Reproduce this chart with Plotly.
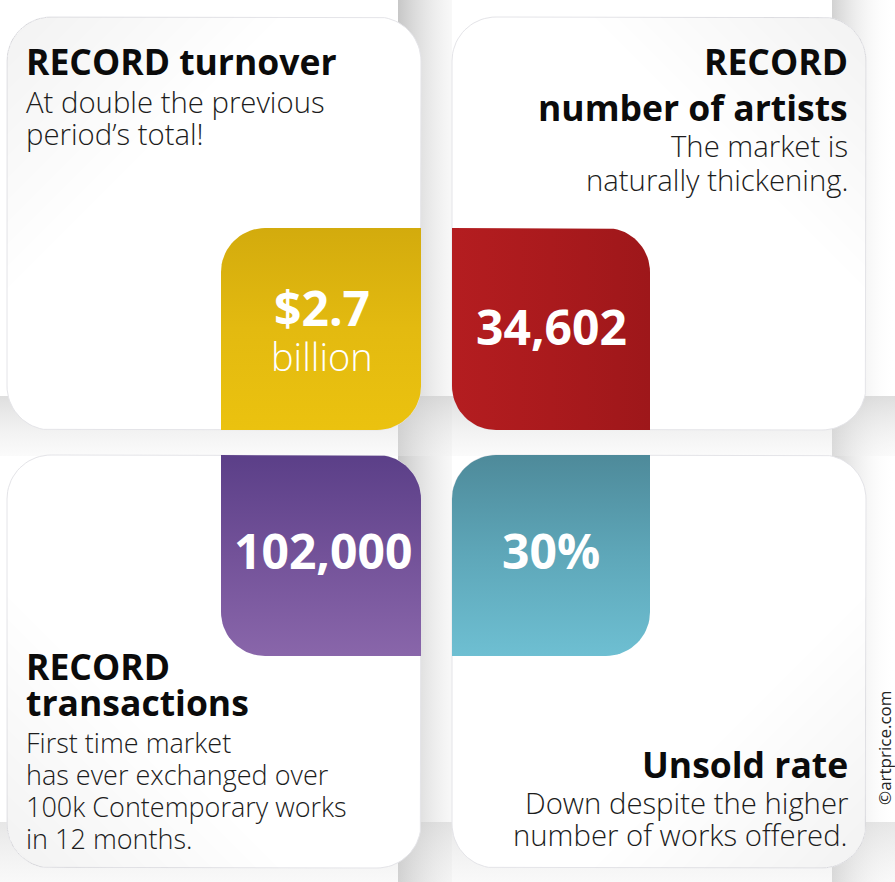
import math
import plotly.graph_objects as go

# ---------------- data ----------------
card_titles = [
    ["RECORD turnover"],
    ["RECORD", "number of artists"],
    ["RECORD", "transactions"],
    ["Unsold rate"],
]
card_subtitles = [
    ["At double the previous", "period’s total!"],
    ["The market is", "naturally thickening."],
    ["First time market", "has ever exchanged over", "100k Contemporary works", "in 12 months."],
    ["Down despite the higher", "number of works offered."],
]
key_values = ["$2.7", "34,602", "102,000", "30%"]
key_units = ["billion", "", "", ""]
# colour stops listed from top (or left) to bottom (or right)
box_gradients = [
    ("vertical", ["#d3ab0d", "#e3ba10", "#ebc20f"]),
    ("horizontal", ["#b41d20", "#aa1a1d", "#9e171a"]),
    ("vertical", ["#5b3f88", "#735299", "#8966aa"]),
    ("vertical", ["#4e8a9a", "#5ea7b9", "#6ebfd2"]),
]
credit = "©artprice.com"

# ---------------- layout constants ----------------
W, H = 895, 882
R = 44
FONT = "Open Sans"
cards = [(7, 17, 421, 430), (452, 17, 866, 430), (7, 455, 421, 868), (452, 455, 866, 868)]
boxes = [(221, 228, 421, 430), (452, 228, 650, 430), (221, 455, 421, 656), (452, 455, 650, 656)]
box_round = [("tl", "br"), ("tr", "bl"), ("tr", "bl"), ("tl", "br")]
# corner of each card where the grey shading lives: (sx, sy, cx, cy)
shade_corner = [(1, 1, 7, 17), (-1, 1, 866, 17), (1, -1, 7, 868), (-1, -1, 866, 868)]

title_pos = [(24, "left", [61]), (850, "right", [61, 107]), (24, "left", [666, 702]), (850, "right", [764])]
sub_pos = [[102, 134], [146, 180], [742, 774, 806, 838], [803, 835]]
sub_size = [29.3, 29.3, 27, 29.3]
value_pos = [(322, 307), (551, 326), (323, 550), (551, 550)]
unit_pos = [(322, 356), None, None, None]


def rounded_rect(x0, y0, x1, y1, corners, r=R, n=18):
    pts = []
    spec = [
        ("tl", (x0 + r, y0 + r), 180, 270, (x0, y0)),
        ("tr", (x1 - r, y0 + r), 270, 360, (x1, y0)),
        ("br", (x1 - r, y1 - r), 0, 90, (x1, y1)),
        ("bl", (x0 + r, y1 - r), 90, 180, (x0, y1)),
    ]
    for name, (cx, cy), a0, a1, sq in spec:
        if name in corners:
            for i in range(n + 1):
                a = math.radians(a0 + (a1 - a0) * i / n)
                pts.append((cx + r * math.cos(a), cy + r * math.sin(a)))
        else:
            pts.append(sq)
    pts.append(pts[0])
    return pts


def clip(poly, f):
    """Keep part of polygon where f(x,y) >= 0 (Sutherland-Hodgman)."""
    out = []
    pts = poly[:-1]
    for i in range(len(pts)):
        p, q = pts[i], pts[(i + 1) % len(pts)]
        fp, fq = f(*p), f(*q)
        if fp >= 0:
            out.append(p)
        if (fp >= 0) != (fq >= 0):
            t = fp / (fp - fq)
            out.append((p[0] + t * (q[0] - p[0]), p[1] + t * (q[1] - p[1])))
    if out:
        out.append(out[0])
    return out


def grad(gtype, stops):
    """stops are given top->bottom / left->right; the y axis is reversed on screen."""
    n = len(stops)
    cs = [[i / (n - 1), c] for i, c in enumerate(stops)]
    if gtype == "vertical":
        cs = [[1 - p, c] for p, c in reversed(cs)]
    return dict(type=gtype, colorscale=cs)


fig = go.Figure()


def poly_trace(pts, fillcolor=None, line=None, gradient=None):
    kw = dict(
        x=[p[0] for p in pts], y=[p[1] for p in pts], mode="lines", fill="toself",
        hoverinfo="skip", showlegend=False,
        line=line or dict(width=0, color="rgba(0,0,0,0)"),
    )
    if gradient:
        kw["fillgradient"] = gradient
    else:
        kw["fillcolor"] = fillcolor
    fig.add_trace(go.Scatter(**kw))


def rect(x0, y0, x1, y1):
    return [(x0, y0), (x1, y0), (x1, y1), (x0, y1), (x0, y0)]


# ---------- background shadows ----------
poly_trace(rect(398, 0, 452, H), gradient=grad("horizontal",
           ["rgba(185,185,185,0.8)", "rgba(235,235,235,0.35)"]))
poly_trace(rect(832, 0, W, H), gradient=grad("horizontal",
           ["rgba(190,190,190,0.7)", "rgba(255,255,255,0)"]))
poly_trace(rect(0, 396, W, 456), gradient=grad("vertical",
           ["rgba(200,200,200,0.6)", "rgba(240,240,240,0.3)"]))
poly_trace(rect(0, 822, W, H), gradient=grad("vertical",
           ["rgba(200,200,200,0.45)", "rgba(235,235,235,0.3)"]))

# ---------- cards ----------
for i, (x0, y0, x1, y1) in enumerate(cards):
    outline = rounded_rect(x0, y0, x1, y1, ("tl", "tr", "br", "bl"))
    poly_trace(outline, fillcolor="#ffffff", line=dict(width=1, color="#e4e4e8"))
    sx, sy, cx, cy = shade_corner[i]
    for k in range(12):
        c = 30 + k * 22
        band = clip(outline, lambda x, y, c=c: c - (sx * (x - cx) + sy * (y - cy)))
        if band:
            poly_trace(band, fillcolor="rgba(150,152,158,0.012)")

# ---------- coloured boxes ----------
for i, (x0, y0, x1, y1) in enumerate(boxes):
    gtype, stops = box_gradients[i]
    poly_trace(rounded_rect(x0, y0, x1, y1, box_round[i]), gradient=grad(gtype, stops))


# ---------- text ----------
def text(x, y, s, size, weight, color, xanchor="center", angle=0):
    fig.add_annotation(x=x, y=y, xref="x", yref="y", text=s, showarrow=False,
                       xanchor=xanchor, yanchor="middle", textangle=angle,
                       font=dict(family=FONT, size=size, weight=weight, color=color))


for i in range(4):
    tx, anchor, tys = title_pos[i]
    for line, ty in zip(card_titles[i], tys):
        text(tx, ty, line, 35.5, 700, "#0b0b0b", anchor)
    for line, sy_ in zip(card_subtitles[i], sub_pos[i]):
        text(tx, sy_, line, sub_size[i], 300, "#1c1c1c", anchor)
    vx, vy = value_pos[i]
    text(vx, vy, key_values[i], 48, 700, "#ffffff")
    if key_units[i]:
        ux, uy = unit_pos[i]
        text(ux, uy, key_units[i], 38, 300, "#ffffff")

text(884, 748, credit, 17, 400, "#222222", angle=-90)

fig.update_layout(
    width=W, height=H, margin=dict(l=0, r=0, t=0, b=0),
    paper_bgcolor="#ffffff", plot_bgcolor="#ffffff",
    xaxis=dict(range=[0, W], visible=False, fixedrange=True),
    yaxis=dict(range=[H, 0], visible=False, fixedrange=True),
    showlegend=False,
)
fig.write_html("out.html", config={"displayModeBar": False},
               post_script="document.body.style.margin='0px';")
